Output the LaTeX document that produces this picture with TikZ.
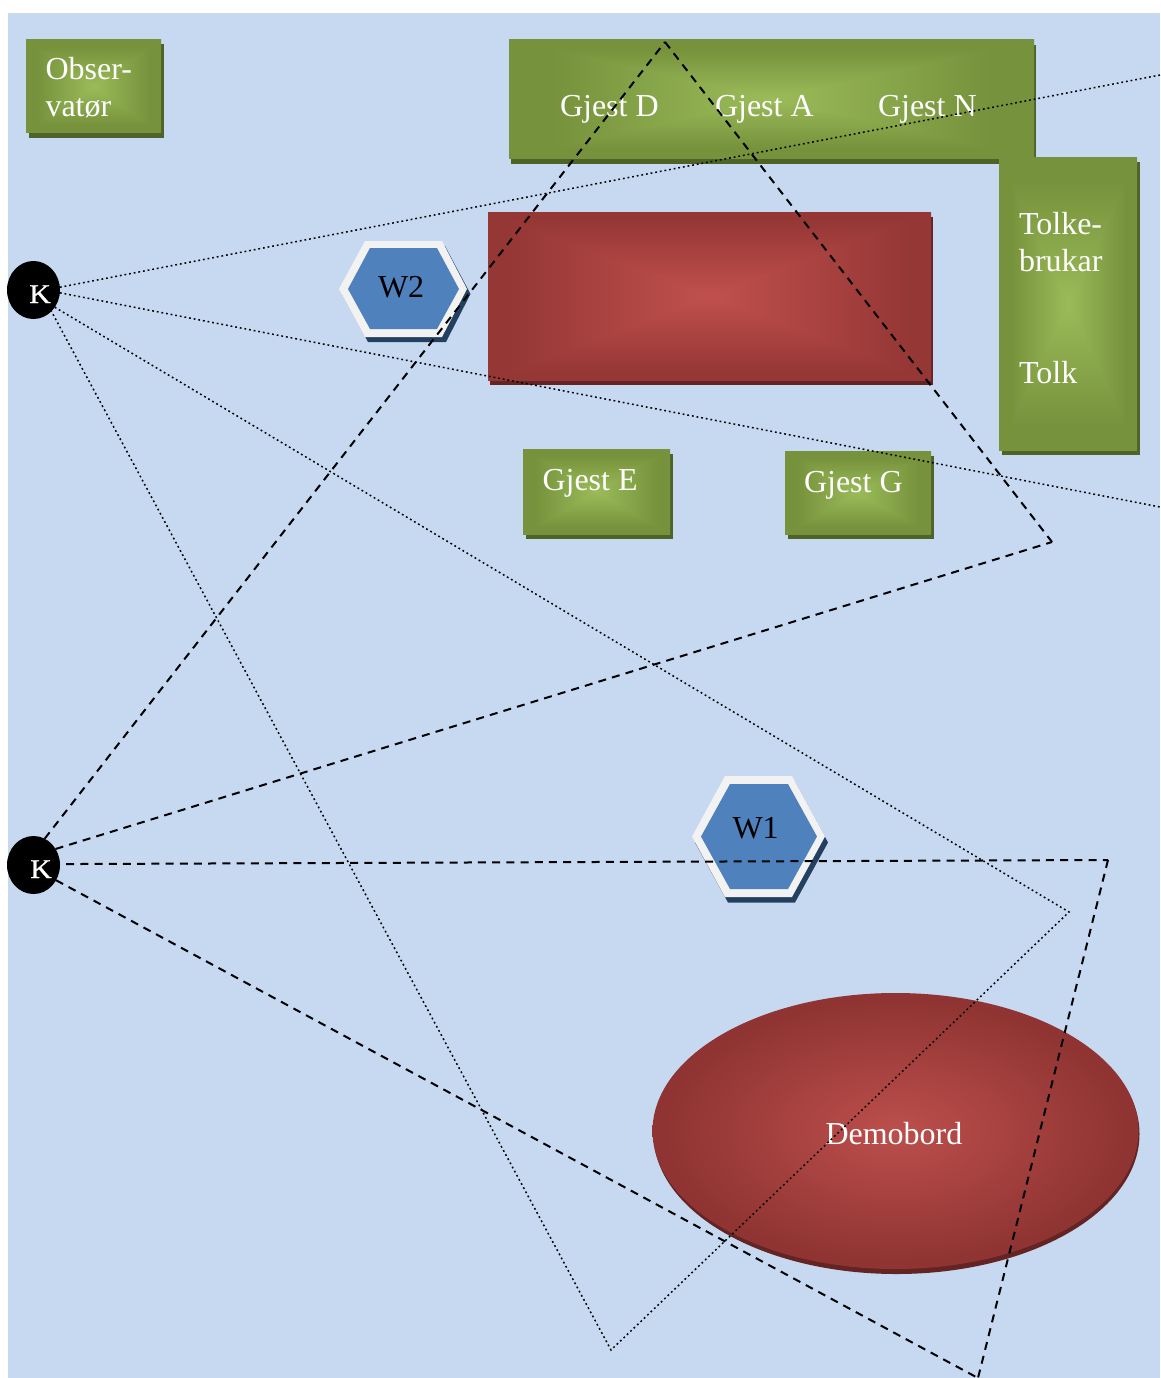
\documentclass[tikz,border=0pt]{standalone}
\usepackage{fontspec}
\setmainfont{Liberation Serif}
\newfontfamily\kfont[FakeBold=1,FakeStretch=1.1]{Liberation Serif}
\usetikzlibrary{shapes.geometric,shadows}
\definecolor{bgblue}{HTML}{C6D9F1}
\definecolor{greenshadow}{HTML}{4F6228}
\definecolor{redshadow}{HTML}{632423}
\definecolor{blueshadow}{HTML}{244061}
\definecolor{hexfill}{HTML}{4F81BD}
\definecolor{hexrim}{HTML}{F2F2F2}
\definecolor{ellmid}{HTML}{BC4F4C}
\definecolor{elledge}{HTML}{8F3432}
\pgfdeclarefunctionalshading{greenrect}{\pgfpoint{-50bp}{-50bp}}{\pgfpoint{50bp}{50bp}}{}{abs exch abs 2 copy lt {exch} if pop 25 div 1.2 mul dup 1 gt {pop 1} if dup dup -0.114 mul 0.349 add 3 1 roll -0.16 mul 0.733 add exch -0.145 mul 0.608 add 3 1 roll exch}
\pgfdeclarefunctionalshading{redrect}{\pgfpoint{-50bp}{-50bp}}{\pgfpoint{50bp}{50bp}}{}{abs exch abs 2 copy lt {exch} if pop 25 div 1.1 mul dup 1 gt {pop 1} if dup dup -0.094 mul 0.302 add 3 1 roll -0.098 mul 0.314 add exch -0.169 mul 0.753 add 3 1 roll exch}
\pgfdeclareradialshading{redell}{\pgfpoint{0bp}{0bp}}{color(0bp)=(ellmid);color(24bp)=(elledge);color(100bp)=(elledge)}
\tikzset{
  x=1pt,y=-1pt,
  box/.style={rectangle,anchor=north west,inner sep=0pt,outer sep=0pt},
  greenbox/.style={box,shade,shading=greenrect,general shadow={fill=greenshadow,shadow xshift=3pt,shadow yshift=-5pt}},
  redbox/.style={box,shade,shading=redrect,general shadow={fill=redshadow,shadow xshift=2pt,shadow yshift=-5pt}},
  lbl/.style={anchor=base west,inner sep=0pt,outer sep=0pt,font=\fontsize{32}{37}\selectfont},
  wlbl/.style={lbl,text=white},
  blbl/.style={lbl,text=black},
  cam/.style={ellipse,fill=black,minimum width=53pt,minimum height=58pt,inner sep=0pt,outer sep=0pt},
  klbl/.style={anchor=base,inner sep=0pt,outer sep=0pt,text=white,font=\kfont\fontsize{27}{30}\selectfont},
  dotline/.style={black,line width=1.5pt,dash pattern=on 1.8pt off 2.9pt},
  dashline/.style={black,line width=2pt,dash pattern=on 8pt off 6.2pt},
}
\begin{document}
\begin{tikzpicture}
\useasboundingbox (0,0) rectangle (1160,1378);
\fill[bgblue] (8,13) rectangle (1160,1378);
% boxes
\node[greenbox,minimum width=135pt,minimum height=93.6pt] (obs) at (26,39.4) {};
\fill[greenshadow] (511,45) rectangle (1036,164);
\node[box,shade,shading=greenrect,minimum width=525pt,minimum height=118.6pt] (gjester) at (509,39.4) {};
\node[greenbox,minimum width=138pt,minimum height=293pt] (tolk) at (999,157) {};
\node[redbox,minimum width=443pt,minimum height=168pt] (bord) at (488,212) {};
\node[greenbox,minimum width=147pt,minimum height=85pt] (gjeste) at (523,449) {};
\node[greenbox,minimum width=146pt,minimum height=83pt] (gjestg) at (785,451) {};
% demobord
\fill[redshadow] (896.5,1134) ellipse [x radius=243,y radius=140];
\node[ellipse,shade,shading=redell,minimum width=486pt,minimum height=276pt,inner sep=0pt,outer sep=0pt] (demo) at (895.5,1131) {};
% hexagons
\fill[blueshadow] (695,842.5) -- (728,782) -- (795,782) -- (828,842.5) -- (795,902.5) -- (728,902.5) -- cycle;
\fill[hexrim] (692,836.5) -- (725,776) -- (792,776) -- (825,836.5) -- (792,897) -- (725,897) -- cycle;
\fill[hexfill] (701,836.5) -- (730,784) -- (788,784) -- (817,836.5) -- (788,889) -- (730,889) -- cycle;
\fill[blueshadow] (342,294) -- (368,246) -- (445,246) -- (470.5,294) -- (446,342) -- (368,342) -- cycle;
\fill[hexrim] (339,289) -- (365,241) -- (442,241) -- (467,289) -- (442,337) -- (365,337) -- cycle;
\fill[hexfill] (348,289) -- (370,248) -- (437,248) -- (459,289) -- (437,329) -- (370,329) -- cycle;
% labels
\node[wlbl] (t1) at (45.5,80) {Obser-};
\node[wlbl] (t2) at (45.5,117) {vatør};
\node[wlbl] (t3) at (560,117) {Gjest D};
\node[wlbl] (t4) at (715,117) {Gjest A};
\node[wlbl] (t5) at (878,117) {Gjest N};
\node[wlbl] (t6) at (1019,234) {Tolke-};
\node[wlbl] (t7) at (1019,271) {brukar};
\node[wlbl] (t8) at (1019,383) {Tolk};
\node[wlbl] (t9) at (542.5,490) {Gjest E};
\node[wlbl] (t10) at (804,492) {Gjest G};
\node[blbl] (t11) at (378,297) {W2};
\node[blbl] (t12) at (732.5,838) {W1};
\node[wlbl] (t13) at (825.5,1144) {Demobord};
% cameras
\node[cam] (k1) at (33.5,290) {};
\node[cam] (k2) at (33.5,865) {};
\node[klbl] (kl1) at (40,303) {K};
\node[klbl] (kl2) at (41,878) {K};
% sight lines
\coordinate (a1) at (1160,75);
\coordinate (a2) at (1160,507);
\coordinate (a3) at (1069,912);
\coordinate (a4) at (611,1350);
\coordinate (b1) at (665,42);
\coordinate (b2) at (1052,542);
\coordinate (b3) at (1108,860);
\coordinate (b4) at (978,1378);
\draw[dotline] (k1.6) -- (a1);
\draw[dotline] (k1.-6) -- (a2);
\draw[dotline] (k1.-39) -- (a3) -- (a4) -- (k1.-50);
\draw[dashline] (k2.67) -- (b1);
\draw[dashline] (b1) -- (b2);
\draw[dashline] (k2.36) -- (b2);
\draw[dashline,dash phase=8pt] (k2.2) -- (b3);
\draw[dashline] (b3) -- (b4);
\draw[dashline] (k2.-34) -- (b4);
\end{tikzpicture}
\end{document}
